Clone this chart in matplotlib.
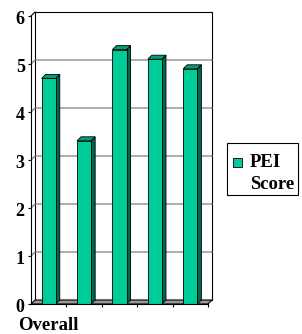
import matplotlib
matplotlib.use("Agg")
import matplotlib.pyplot as plt
from matplotlib.patches import Polygon, Rectangle
from matplotlib.transforms import ScaledTranslation

# data
categories = ["Overall", "", "", "", ""]
pei_score = [4.7, 3.4, 5.3, 5.1, 4.9]
series_lines = ["PEI", "Score"]
y_ticks = [0, 1, 2, 3, 4, 5, 6]

W, H = 302, 334
fig = plt.figure(figsize=(W / 100, H / 100), dpi=100)
ax = fig.add_axes([31 / W, 30 / H, 177 / W, 288 / H])
ax.set_xlim(0, len(pei_score))
ax.set_ylim(0, 6)

# depth offset of the 3D box, converted from pixels to data units
px_x = 177 / len(pei_score)
px_y = 288 / 6
ddx, ddy = 4 / px_x, 4 / px_y
n = len(pei_score)

front_c = "#00cc99"
side_c = "#00664c"
top_c = "#009f77"

# back wall
ax.add_patch(Polygon([(ddx, ddy), (n + ddx, ddy), (n + ddx, 6 + ddy), (ddx, 6 + ddy)],
                     closed=True, facecolor="white", edgecolor="black", lw=0.8,
                     clip_on=False, zorder=1))
# side wall top edge
ax.plot([0, ddx], [6, 6 + ddy], color="black", lw=0.8, clip_on=False, zorder=2)

# gridlines
for v in y_ticks[1:-1]:
    ax.plot([0, ddx, n + ddx], [v, v + ddy, v + ddy], color="#808080", lw=0.9,
            clip_on=False, zorder=2)

# floor
ax.add_patch(Polygon([(0, 0), (n, 0), (n + ddx, ddy), (ddx, ddy)], closed=True,
                     facecolor="#999999", edgecolor="black", lw=0.8,
                     clip_on=False, zorder=2))

# bars
bw = 0.4
for i, v in enumerate(pei_score):
    x0 = i + 0.5 - bw / 2
    x1 = x0 + bw
    ax.add_patch(Polygon([(x1, 0), (x1 + ddx, ddy), (x1 + ddx, v + ddy), (x1, v)],
                         closed=True, facecolor=side_c, edgecolor="black", lw=0.6,
                         clip_on=False, zorder=3))
    ax.add_patch(Polygon([(x0, v), (x1, v), (x1 + ddx, v + ddy), (x0 + ddx, v + ddy)],
                         closed=True, facecolor=top_c, edgecolor="black", lw=0.6,
                         clip_on=False, zorder=3))
    ax.add_patch(Rectangle((x0, 0), bw, v, facecolor=front_c, edgecolor="black",
                           lw=0.6, clip_on=False, zorder=4))

# axes styling
for s in ["top", "right"]:
    ax.spines[s].set_visible(False)
for s in ["left", "bottom"]:
    ax.spines[s].set_linewidth(0.8)
    ax.spines[s].set_zorder(5)
ax.patch.set_visible(False)

font = dict(family="Liberation Serif", weight="bold", size=13.5)
ax.set_yticks(y_ticks)
ax.set_yticklabels([str(t) for t in y_ticks], fontdict=dict(font, size=13))
ax.tick_params(axis="y", direction="out", length=2.5, width=0.8, pad=2)
shift = ScaledTranslation(0, -2 / 100, fig.dpi_scale_trans)
for lbl in ax.get_yticklabels():
    lbl.set_transform(lbl.get_transform() + shift)

ax.set_xticks([i + 0.5 for i in range(n)])
ax.set_xticklabels(categories, fontdict=font)
ax.set_xticks(range(1, n + 1), minor=True)
ax.tick_params(axis="x", which="major", length=0, pad=9)
ax.tick_params(axis="x", which="minor", direction="out", length=2.5, width=0.8)

# legend (manual, marker aligned with first line)
fig.patches.append(Rectangle((227 / W, 1 - 195 / H), 71 / W, 52 / H,
                             transform=fig.transFigure, facecolor="white",
                             edgecolor="black", lw=0.8))
fig.patches.append(Rectangle((233 / W, 1 - 167 / H), 9 / W, 9 / H,
                             transform=fig.transFigure, facecolor=front_c,
                             edgecolor="black", lw=0.6))
fig.text(250 / W, 1 - 167 / H, series_lines[0], ha="left", va="baseline", **font)
fig.text(250 / W, 1 - 189 / H, series_lines[1], ha="left", va="baseline", **font)

fig.savefig("out.png", dpi=100)
